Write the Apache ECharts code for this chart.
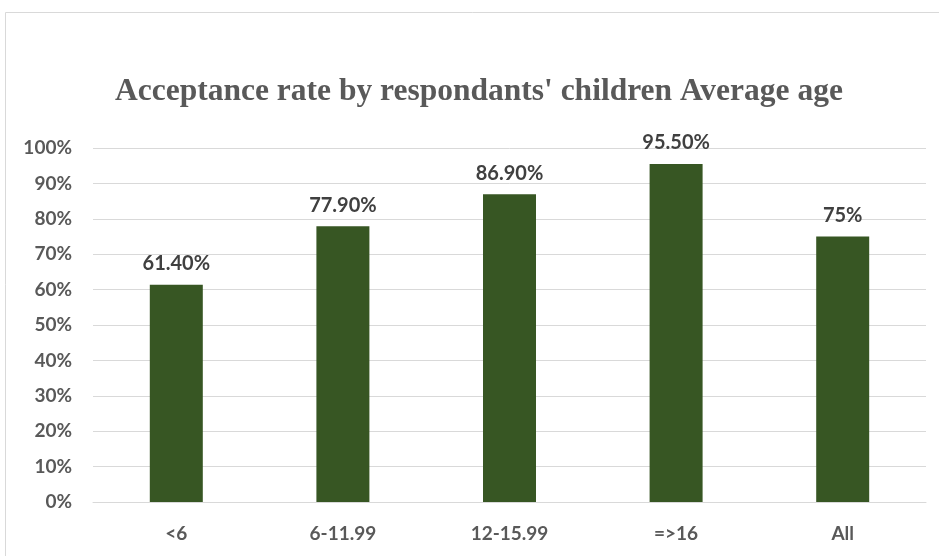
<!DOCTYPE html>
<html><head><meta charset="utf-8">
<script src="https://cdn.jsdelivr.net/npm/echarts@6/dist/echarts.min.js"></script>
<style>html,body{margin:0;padding:0;background:#fff}#c{width:939px;height:556px}</style>
</head><body><div id="c"></div>
<script>
const categories = ['<6', '6-11.99', '12-15.99', '=>16', 'All'];
const values = [61.4, 77.9, 86.9, 95.5, 75];
const valueLabels = ['61.40%', '77.90%', '86.90%', '95.50%', '75%'];
const titleText = "Acceptance rate by respondants' children Average age";

const chart = echarts.init(document.getElementById('c'));
chart.setOption({
  animation: false,
  backgroundColor: '#fff',
  graphic: [{
    type: 'rect', left: 3, top: 10,
    shape: { width: 960, height: 560 },
    style: { fill: 'none', stroke: '#d9d9d9', lineWidth: 1 }
  }],
  title: {
    text: titleText, left: 110, top: 71,
    textStyle: { fontFamily: 'Liberation Serif', fontWeight: 'bold', fontSize: 31.5, color: '#595959' }
  },
  grid: { left: 93, right: 13, top: 148, bottom: 54 },
  xAxis: {
    type: 'category', data: categories,
    axisLine: { lineStyle: { color: '#d9d9d9', width: 1 } },
    axisTick: { show: false },
    axisLabel: { margin: 22, fontFamily: 'Lato', fontWeight: 'bold', fontSize: 19, color: '#595959' }
  },
  yAxis: {
    type: 'value', min: 0, max: 100, interval: 10,
    axisLine: { show: false }, axisTick: { show: false },
    splitLine: { lineStyle: { color: '#d9d9d9', width: 1 } },
    axisLabel: { margin: 21, formatter: '{value}%', fontFamily: 'Lato', fontWeight: 'bold', fontSize: 19, color: '#595959' }
  },
  series: [{
    type: 'bar', data: values, barWidth: 53,
    itemStyle: { color: '#375623' },
    label: {
      show: true, position: 'top', distance: 11,
      formatter: p => valueLabels[p.dataIndex],
      fontFamily: 'Lato', fontWeight: 'bold', fontSize: 20, color: '#404040'
    }
  }]
});
</script></body></html>
